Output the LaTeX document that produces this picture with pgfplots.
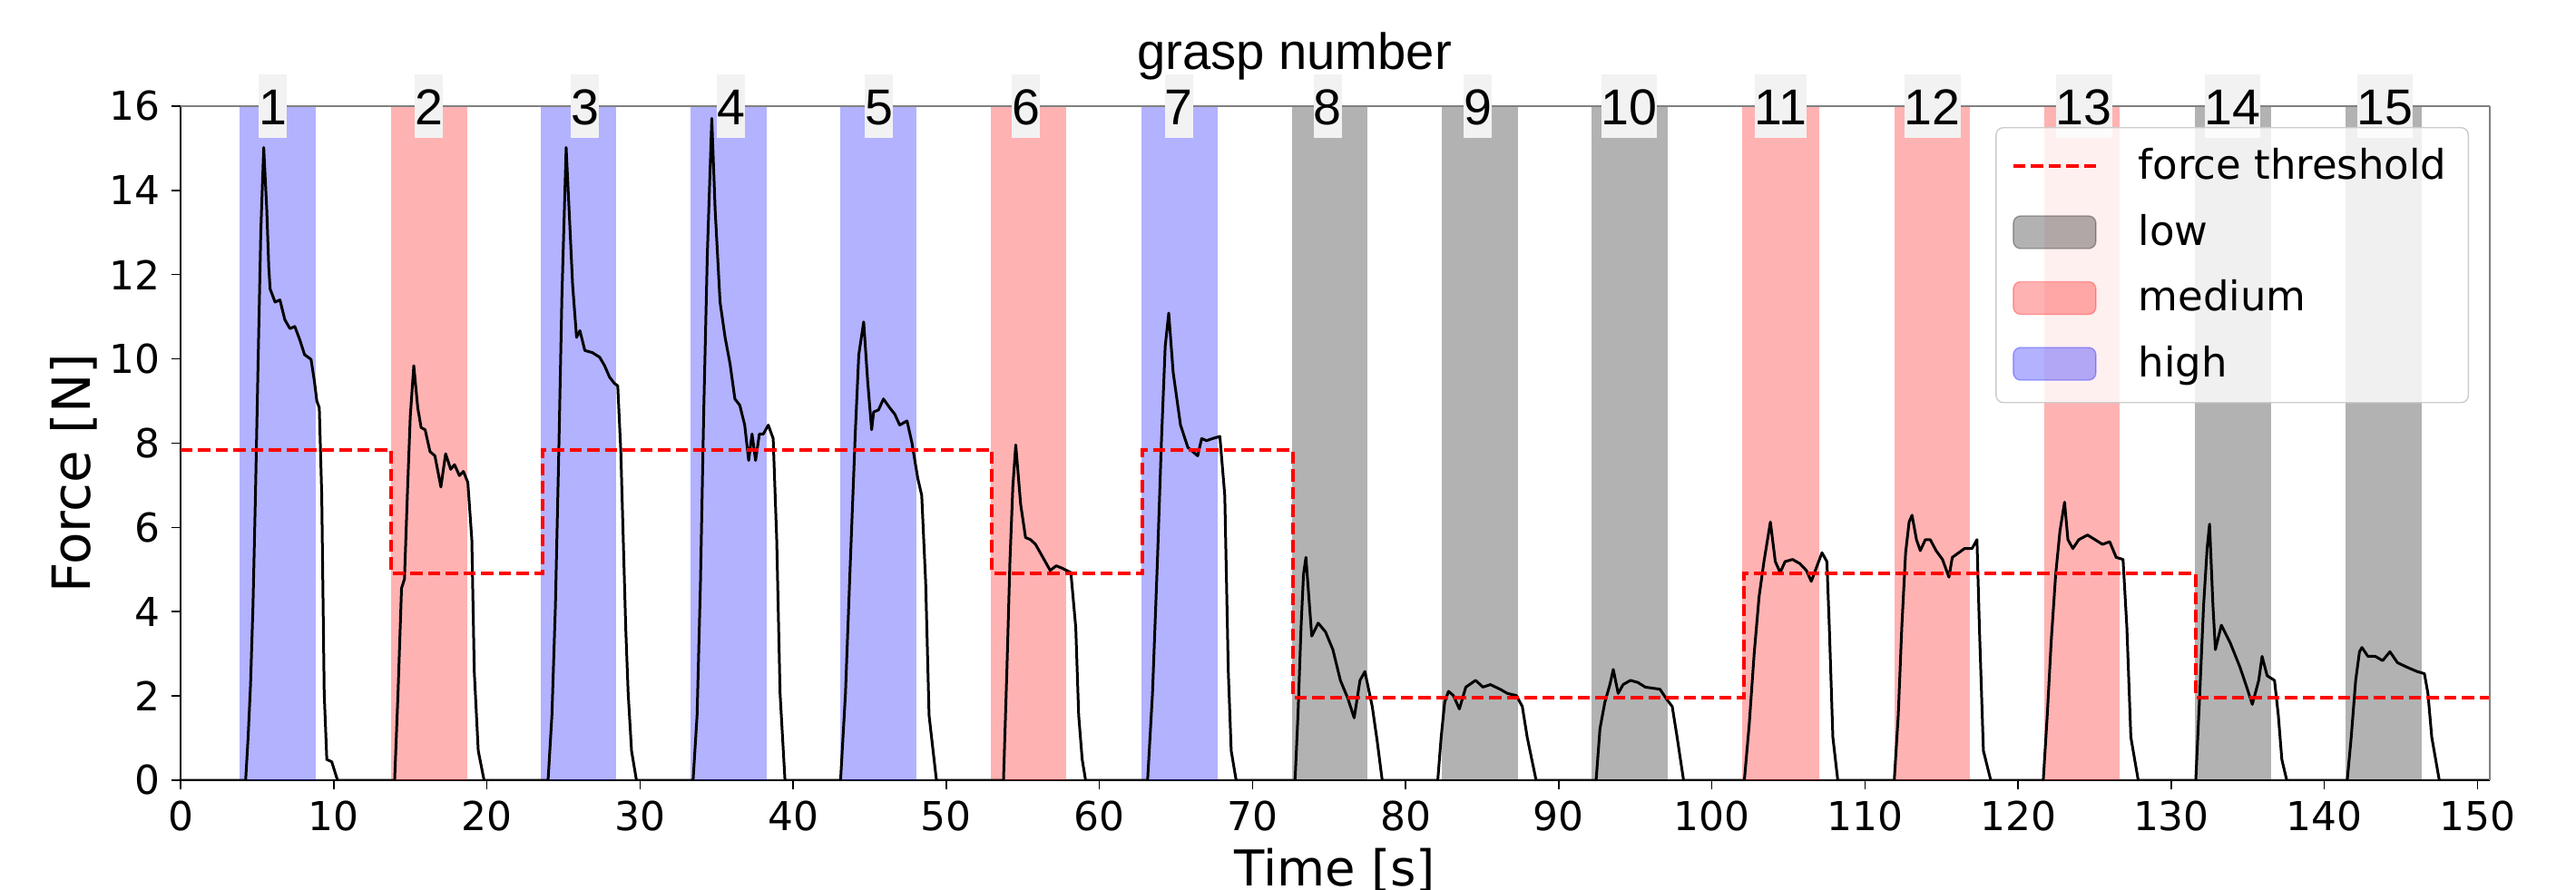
\documentclass[border=0pt]{standalone}
\usepackage{fontspec}
\setmainfont{DejaVu Sans}
\newfontfamily\arialfont{Liberation Sans}
\usepackage{pgfplots}
\usepackage{pgfplotstable}
\pgfplotsset{compat=1.18}

\definecolor{boxgray}{RGB}{242,242,242}
\definecolor{legedge}{RGB}{204,204,204}

\pgfplotsset{
  patchlegend/.style={legend image code/.code={\draw[##1] (0mm,-1.8mm) rectangle (9.1mm,1.8mm);}},
  dashlegend/.style={legend image code/.code={\draw[##1] (0mm,0mm) -- (9.1mm,0mm);}},
  band/.style={draw=none, fill=#1, fill opacity=0.3, forget plot},
}

\pgfplotstableread{
t F
0 0
4.25 0
4.41 1.01
4.57 2.27
4.73 4.15
4.89 6.76
5.05 9.68
5.24 13.02
5.43 15.02
5.63 13.54
5.76 12.18
5.85 11.66
6.17 11.35
6.49 11.4
6.81 10.93
7.14 10.72
7.46 10.77
7.78 10.46
8.10 10.10
8.52 9.99
8.74 9.47
8.90 9.00
9.06 8.84
9.22 6.76
9.38 2.06
9.55 0.49
9.87 0.44
10.25 0
13.98 0
14.20 2.06
14.43 4.56
14.62 4.77
14.81 6.76
15.00 8.63
15.23 9.84
15.49 8.84
15.71 8.37
15.97 8.32
16.29 7.80
16.61 7.70
17.00 6.96
17.31 7.75
17.64 7.38
17.89 7.49
18.21 7.23
18.47 7.33
18.76 7.07
19.02 5.71
19.18 2.58
19.44 0.70
19.82 0
24.00 0
24.25 1.54
24.48 4.15
24.70 7.80
24.90 11.45
25.18 15.02
25.44 13.02
25.60 11.77
25.86 10.51
26.08 10.67
26.40 10.20
26.89 10.15
27.37 10.04
27.69 9.84
28.01 9.57
28.33 9.42
28.55 9.36
28.75 7.80
28.91 5.71
29.07 3.62
29.23 2.06
29.45 0.70
29.77 0
33.47 0
33.73 1.54
33.95 4.67
34.17 8.84
34.40 12.50
34.69 15.71
34.91 13.54
35.23 11.35
35.56 10.51
35.88 9.89
36.20 9.05
36.52 8.90
36.84 8.43
37.10 7.59
37.32 8.22
37.55 7.59
37.80 8.22
38.06 8.22
38.38 8.43
38.70 8.11
38.93 5.71
39.15 2.06
39.47 0
43.10 0
43.42 2.06
43.74 5.19
44.07 8.32
44.29 10.10
44.61 10.88
44.87 9.47
45.13 8.32
45.26 8.74
45.58 8.79
45.90 9.05
46.31 8.84
46.64 8.69
46.96 8.43
47.44 8.53
47.76 8.01
48.14 7.17
48.40 6.76
48.66 4.67
48.88 1.54
49.36 0
53.74 0
53.96 2.58
54.16 5.19
54.35 6.97
54.54 7.96
54.86 6.55
55.18 5.76
55.51 5.71
55.83 5.60
56.31 5.29
56.79 4.98
57.18 5.09
57.59 5.03
58.14 4.93
58.46 3.62
58.65 1.54
58.88 0.49
59.10 0
63.15 0
63.47 2.06
63.79 5.19
64.05 8.01
64.30 10.30
64.53 11.09
64.82 9.68
65.30 8.43
65.78 7.90
66.10 7.80
66.42 7.70
66.68 8.11
67.00 8.06
67.39 8.11
67.87 8.16
68.19 6.76
68.42 2.58
68.61 0.70
68.93 0
72.78 0
72.97 1.54
73.17 3.62
73.33 4.88
73.49 5.29
73.87 3.42
74.29 3.73
74.77 3.52
75.25 3.10
75.74 2.37
76.22 1.95
76.64 1.48
77.02 2.37
77.34 2.58
77.82 1.75
78.15 0.91
78.47 0
82.10 0
82.32 1.02
82.55 1.85
82.80 2.11
83.12 2.01
83.51 1.69
83.93 2.21
84.57 2.37
85.05 2.21
85.53 2.27
86.17 2.16
86.65 2.06
87.23 2.01
87.62 1.75
87.94 1.02
88.52 0
92.44 0
92.69 1.22
93.01 1.85
93.34 2.27
93.56 2.63
93.88 2.06
94.20 2.27
94.68 2.37
95.17 2.32
95.65 2.21
96.61 2.16
97.09 1.90
97.41 1.75
97.73 1.02
98.15 0
102.12 0
102.44 1.33
102.76 3.00
103.08 4.35
103.40 5.19
103.82 6.13
104.14 5.19
104.46 4.93
104.78 5.19
105.27 5.24
105.75 5.14
106.17 4.98
106.49 4.72
106.87 5.09
107.19 5.40
107.51 5.19
107.67 3.62
107.90 1.02
108.22 0
111.91 0
112.17 1.54
112.40 3.62
112.65 5.40
112.88 6.13
113.07 6.29
113.36 5.71
113.61 5.45
113.94 5.71
114.26 5.71
114.64 5.45
115.06 5.24
115.48 4.82
115.70 5.29
116.12 5.40
116.50 5.50
116.99 5.50
117.31 5.71
117.47 3.62
117.73 0.70
118.21 0
121.64 0
121.90 1.54
122.16 3.31
122.45 4.88
122.73 5.92
123.03 6.60
123.25 5.71
123.57 5.50
123.96 5.71
124.53 5.82
125.02 5.71
125.50 5.60
125.98 5.66
126.40 5.29
126.85 5.24
127.10 3.62
127.36 1.02
127.84 0
131.60 0
131.86 2.06
132.11 4.15
132.34 5.50
132.50 6.08
132.72 4.15
132.88 3.10
133.27 3.68
133.85 3.26
134.49 2.68
134.97 2.16
135.29 1.80
135.71 2.37
135.93 2.94
136.26 2.48
136.74 2.37
136.99 1.54
137.22 0.49
137.54 0
141.49 0
141.75 1.02
142.04 2.37
142.29 3.05
142.45 3.15
142.84 2.94
143.32 2.94
143.80 2.84
144.28 3.05
144.77 2.79
145.41 2.68
146.05 2.58
146.53 2.53
146.76 2.06
147.01 1.02
147.50 0
150.8 0
}\forcedata

% force threshold per grasp (high 7.85, medium 4.91, low 1.96)
\pgfplotstableread{
t thr
0 7.848
13.76 7.848
13.76 4.905
23.62 4.905
23.62 7.848
53.00 7.848
53.00 4.905
62.83 4.905
62.83 7.848
72.62 7.848
72.62 1.962
102.10 1.962
102.10 4.905
131.60 4.905
131.60 1.962
150.8 1.962
}\thrdata

\begin{document}
\begin{tikzpicture}
\begin{axis}[
  name=main,
  at={(0,0)}, anchor=south west,
  scale only axis, width=254.5mm, height=74.3mm,
  xmin=0, xmax=150.8, ymin=0, ymax=16,
  axis x line*=bottom, axis y line*=left,
  axis line style={black, line width=0.2mm},
  xtick={0,10,...,150}, ytick={0,2,...,16},
  tick align=outside, major tick length=1.0mm,
  tick style={black, line width=0.15mm},
  /pgf/number format/assume math mode=true,
  ticklabel style={font=\fontsize{12.5}{15}\selectfont},
  xlabel={Time [s]}, ylabel={Force [N]},
  xlabel style={font=\fontsize{15.5}{18}\selectfont,
    at={(axis description cs:0.5,0)}, anchor=base, yshift=-11.6mm},
  ylabel style={font=\fontsize{16.5}{19}\selectfont,
    at={([xshift=-9.9mm]axis description cs:0,0.455)}, anchor=base},
]
% grasp windows: high = blue, medium = red, low = grey
\addplot[band=blue] coordinates {(3.83,0) (3.83,16) (8.80,16) (8.80,0)};
\addplot[band=red] coordinates {(13.72,0) (13.72,16) (18.72,16) (18.72,0)};
\addplot[band=blue] coordinates {(23.51,0) (23.51,16) (28.45,16) (28.45,0)};
\addplot[band=blue] coordinates {(33.31,0) (33.31,16) (38.30,16) (38.30,0)};
\addplot[band=blue] coordinates {(43.10,0) (43.10,16) (48.05,16) (48.05,0)};
\addplot[band=red] coordinates {(52.94,0) (52.94,16) (57.85,16) (57.85,0)};
\addplot[band=blue] coordinates {(62.73,0) (62.73,16) (67.72,16) (67.72,0)};
\addplot[band=black] coordinates {(72.56,0) (72.56,16) (77.48,16) (77.48,0)};
\addplot[band=black] coordinates {(82.38,0) (82.38,16) (87.35,16) (87.35,0)};
\addplot[band=black] coordinates {(92.11,0) (92.11,16) (97.12,16) (97.12,0)};
\addplot[band=red] coordinates {(102.00,0) (102.00,16) (107.02,16) (107.02,0)};
\addplot[band=red] coordinates {(111.91,0) (111.91,16) (116.85,16) (116.85,0)};
\addplot[band=red] coordinates {(121.71,0) (121.71,16) (126.65,16) (126.65,0)};
\addplot[band=black] coordinates {(131.53,0) (131.53,16) (136.50,16) (136.50,0)};
\addplot[band=black] coordinates {(141.39,0) (141.39,16) (146.35,16) (146.35,0)};

\addplot[black, line width=0.3mm, line join=round, forget plot] table[x=t, y=F] {\forcedata};
\addplot[red, line width=0.4mm, dash pattern=on 1.35mm off 0.6mm, forget plot] table[x=t, y=thr] {\thrdata};
\end{axis}

\begin{axis}[
  at={(0,0)}, anchor=south west,
  scale only axis, width=254.5mm, height=74.3mm,
  xmin=0, xmax=150.8, ymin=0, ymax=16,
  axis x line*=top, axis y line*=right,
  axis line style={gray, line width=0.2mm},
  ytick=\empty,
  xtick={6.04,16.23,26.40,35.95,45.60,55.20,65.20,74.90,84.70,94.60,104.50,114.40,124.30,134.00,143.96},
  xticklabels={1,2,3,4,5,6,7,8,9,10,11,12,13,14,15},
  major tick length=0pt,
  xticklabel style={font=\arialfont\fontsize{15.8}{18}\selectfont, fill=boxgray,
    inner xsep=0pt, inner ysep=0pt, text height=5.6mm, text depth=1.4mm,
    anchor=base, yshift=-2.1mm},
  xlabel={grasp number},
  xlabel style={font=\arialfont\fontsize{16}{19}\selectfont,
    at={(axis description cs:0.5,1)}, anchor=base, xshift=-4.5mm, yshift=4.0mm},
  title={[a] Force thresholds of the grasps},
  title style={font=\arialfont\fontsize{18.8}{22}\selectfont,
    at={(axis description cs:0,1)}, anchor=base west, xshift=74.9mm, yshift=11.9mm},
  legend cell align=left,
  legend style={at={(0.991,0.969)}, anchor=north east,
    fill=white, fill opacity=0.8, text opacity=1, draw=legedge,
    rounded corners=0.8mm, font=\fontsize{12.8}{15}\selectfont,
    inner xsep=1.7mm, inner ysep=1.6mm, row sep=1.9mm,
    /tikz/every odd column/.append style={column sep=3.8mm}},
]
\addlegendimage{dashlegend, red, line width=0.4mm, dash pattern=on 1.35mm off 0.6mm}
\addlegendentry{force threshold}
\addlegendimage{patchlegend, draw=black, draw opacity=0.3, fill=black, fill opacity=0.3}
\addlegendentry{low}
\addlegendimage{patchlegend, draw=red, draw opacity=0.3, fill=red, fill opacity=0.3}
\addlegendentry{medium}
\addlegendimage{patchlegend, draw=blue, draw opacity=0.3, fill=blue, fill opacity=0.3}
\addlegendentry{high}
\end{axis}
\pgfresetboundingbox
\path[use as bounding box] (-19.9mm,-12.1mm) rectangle (264mm,86mm);
\end{tikzpicture}
\end{document}
